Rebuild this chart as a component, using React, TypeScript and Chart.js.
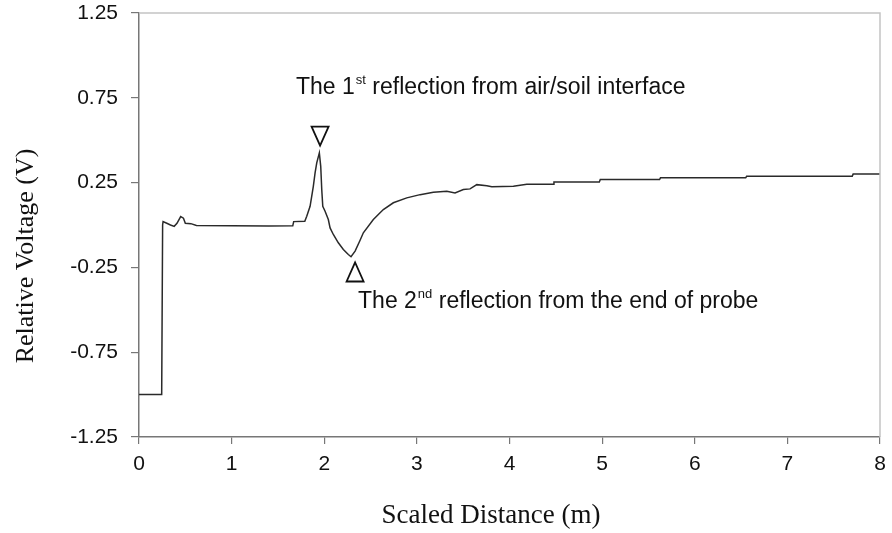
import React, { useEffect, useRef } from "react";
import { Chart, registerables } from "chart.js";

Chart.register(...registerables);

// Scaled distance (m)
const distance = [
  0, 0.245, 0.255, 0.26, 0.3, 0.34, 0.38, 0.41, 0.45, 0.48, 0.5, 0.56, 0.62,
  1.0, 1.4, 1.66, 1.67, 1.79, 1.811, 1.847, 1.865, 1.882, 1.901, 1.919, 1.947,
  1.962, 1.973, 1.984, 2.009, 2.044, 2.063, 2.098, 2.152, 2.206, 2.26, 2.289,
  2.333, 2.387, 2.422, 2.53, 2.638, 2.746, 2.891, 3.035, 3.178, 3.323, 3.412,
  3.502, 3.574, 3.647, 3.755, 3.809, 4.042, 4.187, 4.47, 4.48, 4.97, 4.98,
  5.62, 5.63, 6.55, 6.56, 7.7, 7.71, 8.0,
];
// Relative voltage (V)
const voltage = [
  -1.0, -1.0, 0.0, 0.02, 0.01, 0.0, -0.008, 0.01, 0.05, 0.04, 0.01, 0.008, -0.003,
  -0.004, -0.006, -0.005, 0.02, 0.022, 0.052, 0.11, 0.17, 0.228, 0.307, 0.366, 0.425,
  0.346, 0.209, 0.11, 0.081, 0.032, -0.017, -0.056, -0.105, -0.144, -0.174, -0.187,
  -0.154, -0.09, -0.046, 0.032, 0.091, 0.131, 0.16, 0.179, 0.193, 0.199, 0.189,
  0.209, 0.213, 0.238, 0.232, 0.225, 0.228, 0.24, 0.24, 0.254, 0.254, 0.268,
  0.268, 0.278, 0.278, 0.287, 0.287, 0.3, 0.3,
];

const xTitle = "Scaled Distance (m)";
const yTitle = "Relative Voltage (V)";
// annotation anchors in data coordinates
const peakMarker = { x: 1.955, y: 0.468 }; // tip of the downward triangle
const troughMarker = { x: 2.333, y: -0.221 }; // tip of the upward triangle
const note1 = { x: 1.695, y: 0.774, pre: "The 1", sup: "st", post: " reflection from air/soil interface" };
const note2 = { x: 2.365, y: -0.49, pre: "The 2", sup: "nd", post: " reflection from the end of probe" };

const SANS = "'Liberation Sans', Arial, sans-serif";
const SERIF = "'Liberation Serif', 'Times New Roman', serif";

const decorPlugin = {
  id: "decor",
  afterDraw(chart: any) {
    const { ctx, chartArea: ca, scales } = chart;
    const xs = scales.x;
    const ys = scales.y;
    ctx.save();
    // top and right frame
    ctx.strokeStyle = "#c4c4c4";
    ctx.lineWidth = 1.5;
    ctx.beginPath();
    ctx.moveTo(ca.left, ca.top);
    ctx.lineTo(ca.right, ca.top);
    ctx.lineTo(ca.right, ca.bottom);
    ctx.stroke();

    // triangles
    ctx.strokeStyle = "#111";
    ctx.lineWidth = 1.8;
    const w = 17;
    const h = 19;
    let px = xs.getPixelForValue(peakMarker.x);
    let py = ys.getPixelForValue(peakMarker.y);
    ctx.beginPath();
    ctx.moveTo(px, py);
    ctx.lineTo(px - w / 2, py - h);
    ctx.lineTo(px + w / 2, py - h);
    ctx.closePath();
    ctx.stroke();
    px = xs.getPixelForValue(troughMarker.x);
    py = ys.getPixelForValue(troughMarker.y);
    ctx.beginPath();
    ctx.moveTo(px, py);
    ctx.lineTo(px - w / 2, py + h);
    ctx.lineTo(px + w / 2, py + h);
    ctx.closePath();
    ctx.stroke();

    // notes with superscripts
    ctx.fillStyle = "#111";
    ctx.textBaseline = "alphabetic";
    ctx.textAlign = "left";
    for (const n of [note1, note2]) {
      let tx = xs.getPixelForValue(n.x);
      const ty = ys.getPixelForValue(n.y);
      ctx.font = `23px ${SANS}`;
      ctx.fillText(n.pre, tx, ty);
      tx += ctx.measureText(n.pre).width + 1;
      ctx.font = `13px ${SANS}`;
      ctx.fillText(n.sup, tx, ty - 10);
      tx += ctx.measureText(n.sup).width;
      ctx.font = `23px ${SANS}`;
      ctx.fillText(n.post, tx, ty);
    }

    // axis titles
    ctx.textAlign = "center";
    ctx.textBaseline = "middle";
    ctx.font = `27px ${SERIF}`;
    ctx.fillText(xTitle, 491, 516);
    ctx.font = `26px ${SERIF}`;
    ctx.translate(26, 256);
    ctx.rotate(-Math.PI / 2);
    ctx.fillText(yTitle, 0, 0);
    ctx.restore();
  },
};

export default function App() {
  const ref = useRef<HTMLCanvasElement | null>(null);
  useEffect(() => {
    document.body.style.margin = "0";
    const canvas = ref.current;
    if (!canvas) return;
    const chart = new Chart(canvas, {
      type: "line",
      data: {
        datasets: [
          {
            data: distance.map((d, i) => ({ x: d, y: voltage[i] })),
            borderColor: "#2a2a2a",
            borderWidth: 1.5,
            pointRadius: 0,
            tension: 0,
            fill: false,
          },
        ],
      },
      options: {
        responsive: false,
        animation: false,
        layout: { padding: { top: 13, right: 12, left: 0, bottom: 0 } },
        plugins: { legend: { display: false }, tooltip: { enabled: false } },
        scales: {
          x: {
            type: "linear",
            min: 0,
            max: 8,
            ticks: { stepSize: 1, color: "#111", font: { family: SANS, size: 21 }, padding: 8 },
            grid: { drawOnChartArea: false, drawTicks: true, tickLength: 7, color: "#777", lineWidth: 1.2 },
            border: { color: "#777", width: 1.5 },
            afterFit: (s: any) => {
              s.height = 96;
              s.paddingLeft = 0;
              s.paddingRight = 0;
            },
          },
          y: {
            type: "linear",
            min: -1.25,
            max: 1.25,
            ticks: {
              stepSize: 0.5,
              color: "#111",
              font: { family: SANS, size: 21 },
              padding: 13,
              callback: (v: any) => Number(v).toFixed(2),
            },
            grid: { drawOnChartArea: false, drawTicks: true, tickLength: 8, color: "#777", lineWidth: 1.2 },
            border: { color: "#777", width: 1.5 },
            afterFit: (s: any) => {
              s.width = 139;
              s.paddingTop = 0;
              s.paddingBottom = 0;
            },
          },
        },
      },
      plugins: [decorPlugin],
    });
    return () => chart.destroy();
  }, []);
  return <canvas ref={ref} width={892} height={533} style={{ display: "block" }} />;
}
